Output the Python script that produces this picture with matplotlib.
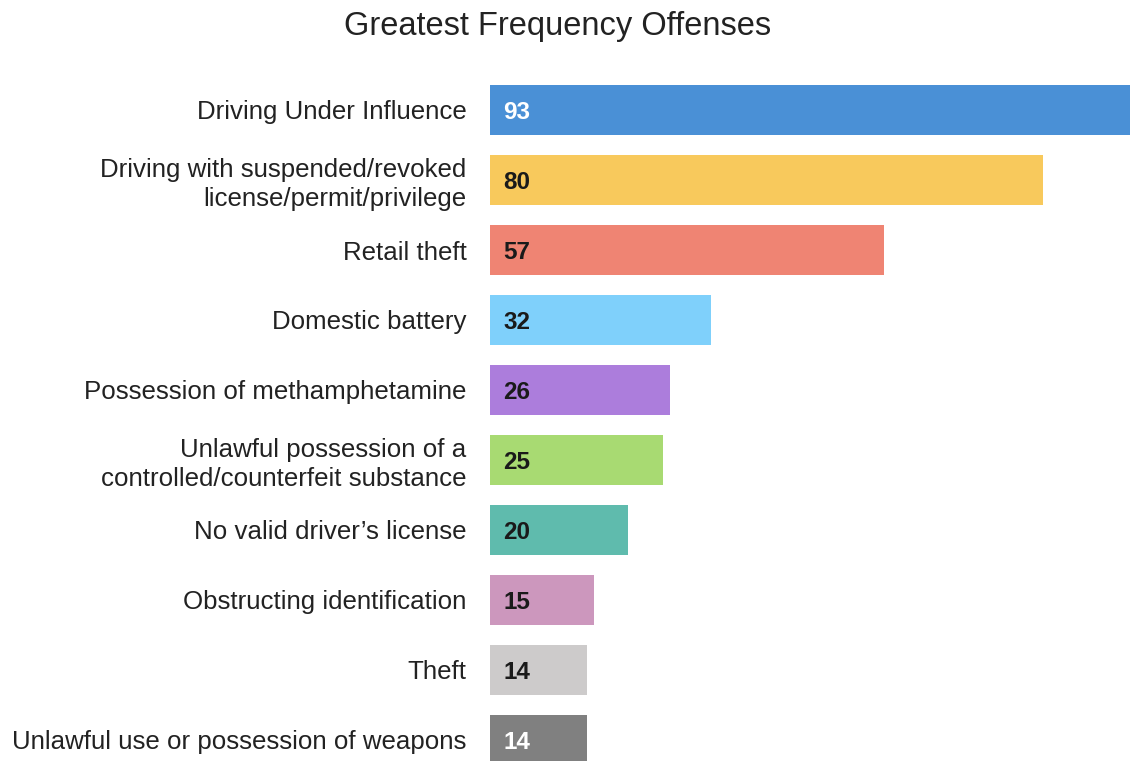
import matplotlib
matplotlib.use("Agg")
import matplotlib.pyplot as plt

offenses = [
    "Driving Under Influence",
    "Driving with suspended/revoked\nlicense/permit/privilege",
    "Retail theft",
    "Domestic battery",
    "Possession of methamphetamine",
    "Unlawful possession of a\ncontrolled/counterfeit substance",
    "No valid driver\u2019s license",
    "Obstructing identification",
    "Theft",
    "Unlawful use or possession of weapons",
]
counts = [93, 80, 57, 32, 26, 25, 20, 15, 14, 14]
colors = ["#4a90d6", "#f8c95c", "#ef8473", "#7fd0fb", "#ac7ddc",
          "#a8da72", "#5fbbad", "#cc97bd", "#cdcbcb", "#808080"]
label_colors = ["white", "#1a1a1a", "#1a1a1a", "#1a1a1a", "#1a1a1a",
                "#1a1a1a", "#1a1a1a", "#1a1a1a", "#1a1a1a", "white"]

plt.rcParams["font.family"] = ["Liberation Sans", "DejaVu Sans"]

fig = plt.figure(figsize=(11.30, 7.61), dpi=100)
ax = fig.add_axes([490 / 1130, 0, 640 / 1130, (761 - 75) / 761])

ypos = range(len(offenses))
ax.barh(ypos, counts, height=50 / 70, color=colors)

for y, v, c in zip(ypos, counts, label_colors):
    ax.text(1.9, y + 0.04, str(v), va="center", ha="left", fontsize=17.5,
            fontweight="bold", color=c)

ax.set_xlim(0, 640 / 6.91)
ax.set_ylim(9.3, -0.5)
ax.set_yticks(list(ypos))
ax.set_yticklabels(offenses, fontsize=18.6, color="#222222", linespacing=1.22)
ax.tick_params(axis="y", length=0, pad=17)
ax.set_xticks([])
for s in ax.spines.values():
    s.set_visible(False)

fig.text(558 / 1130, 1 - 27 / 761, "Greatest Frequency Offenses",
         ha="center", va="center", fontsize=23.5, color="#222222")

fig.savefig("out.png", dpi=100)
